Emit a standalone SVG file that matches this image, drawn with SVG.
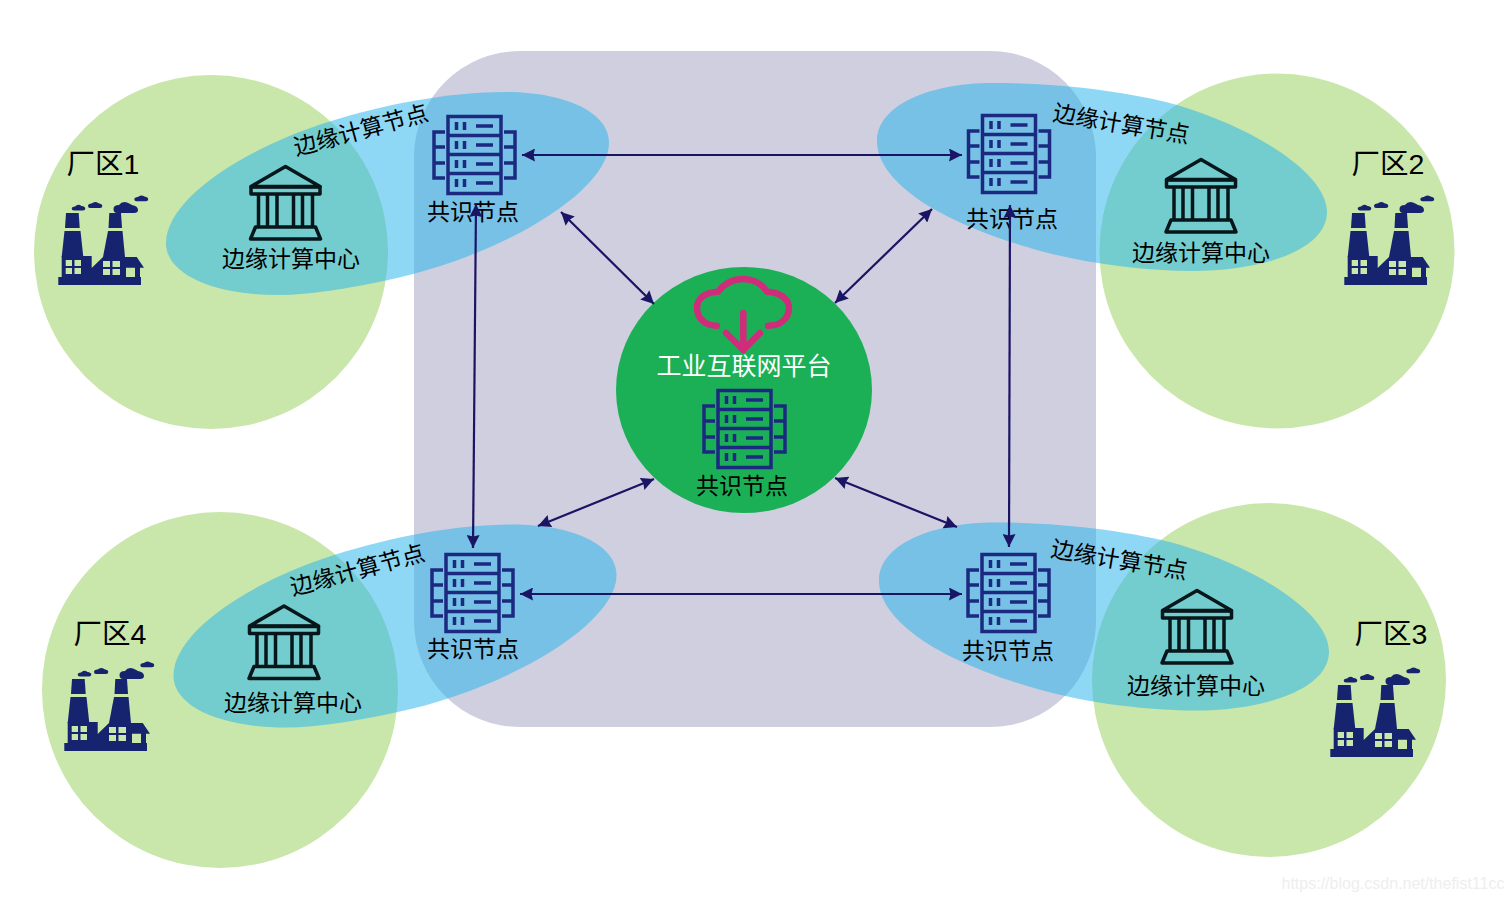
<svg xmlns="http://www.w3.org/2000/svg" width="1512" height="902" viewBox="0 0 1512 902">
<style>
text{font-family:"Liberation Sans","Noto Sans CJK SC",sans-serif;fill:#000;text-anchor:middle}
.t23{font-size:23px}
.t28{font-size:28.5px}
.zone{fill:#c9e6ab}
.edge{fill:#21b2ed;fill-opacity:.51}
.conn{stroke:#1a1464;stroke-width:2.2;fill:none;marker-start:url(#ah);marker-end:url(#ah)}
.srv{fill:none;stroke:#1b2a80;stroke-width:3.5}
.bank{fill:none;stroke:#06161a;stroke-width:3.5;stroke-linejoin:round}
.fac{fill:#16246f;fill-rule:evenodd}
</style>
<defs>
<marker id="ah" markerUnits="userSpaceOnUse" markerWidth="14" markerHeight="13" refX="13" refY="6.5" orient="auto-start-reverse">
<path d="M0 0 L13 6.5 L0 13 L1.5 6.5Z" fill="#1a1464"/>
</marker>
<path id="blobL" d="M166 243C166 200 240 150 328 122C385 104 450 92 505 92C565 92 609 112 609 143C609 190 505 255 388 280C350 288 312 295 278 295C215 295 166 275 166 243Z"/>
<path id="blobR" d="M877 141C877 105 930 83 993 83C1060 83 1130 92 1177 105C1260 130 1327 175 1327 212C1327 250 1262 271 1193 271C1140 271 1075 262 1027 247C975 232 930 210 910 193C890 177 877 160 877 141Z"/>
<g id="server" class="srv">
<rect x="16" y="1.5" width="53" height="77"/>
<path d="M16 20.5H69M16 39.5H69M16 58.5H69"/>
<path d="M13 17H2V63H13M2 32H13M2 48H13"/>
<path d="M72 17H83V63H72M83 32H72M83 48H72"/>
<path d="M24.5 7V15M32.5 7V15M44 11H61M24.5 26V34M32.5 26V34M44 30H61M24.5 45V53M32.5 45V53M44 49H61M24.5 64V72M32.5 64V72M44 68H61"/>
</g>
<g id="bank" class="bank">
<path d="M1.5 21.5L36 1.5L70.5 21.5Z"/>
<rect x="1.5" y="22" width="69" height="7"/>
<path d="M9 29V62M18 29V62M27.5 29V62M44 29V62M53 29V62M63 29V62"/>
<path d="M6 62H66L71 74H1Z"/>
</g>
<g id="factory" class="fac">
<path d="M8 18H20.7L21.7 33H7Z"/>
<path d="M6.5 36H22.5L25.3 62H3.7Z"/>
<path d="M51.3 18H63L64 33H50.5Z"/>
<path d="M50 36H64.5L67 62H45Z"/>
<path d="M3.7 61H33.7V73L45 62H78.7L86 72.7H82V82H83V90H.3V82H3.7Z M7.7 65H14V71H7.7Z M16.5 65H23V71H16.5Z M7.7 73H14V79H7.7Z M16.5 73H23V79H16.5Z M45 66H52V72H45Z M54.5 66H62V72H54.5Z M45 74H52V80H45Z M54.5 74H62V80H54.5Z M68 72.7H77V82H68Z"/>
<path d="M13.7 13.5Q13.7 11.8 17 11.5Q20 8.5 23.5 11Q27.3 11.5 27.3 13.5Q27.3 15.5 25 15.5H16Q13.7 15.5 13.7 13.5Z"/>
<path d="M30 11Q30 9 33.5 8.6Q37 5.5 40.5 8.3Q44.3 9 44.3 11Q44.3 13 42 13H32Q30 13 30 11Z"/>
<path d="M55.5 14Q55.5 10 61 10Q64 6 69 7.5Q72 8.5 74 10Q80 11 80 15Q80 18 76 18H59Q55.5 18 55.5 14Z"/>
<path d="M76.3 4.2Q76.3 2.4 79.8 2Q83 -1 86.5 1.6Q90.2 2.3 90.2 4.2Q90.2 6.2 88 6.2H78.5Q76.3 6.2 76.3 4.2Z"/>
</g>
</defs>
<g id="regions">
<rect x="414" y="51" width="682" height="676" rx="106" ry="106" fill="#d0cfdf"/>
<circle class="zone" cx="211" cy="252" r="177"/>
<circle class="zone" cx="1277" cy="251" r="177.5"/>
<circle class="zone" cx="220" cy="690" r="178"/>
<circle class="zone" cx="1269" cy="680" r="177"/>
<use class="edge" href="#blobL"/>
<use class="edge" href="#blobR"/>
<use class="edge" href="#blobL" x="7.5" y="432.5"/>
<use class="edge" href="#blobR" x="2" y="439.5"/>
</g>
<g id="zone1"><text class="t28" x="103" y="174">厂区1</text><use href="#factory" x="58" y="195"/></g>
<g id="zone2"><text class="t28" x="1388" y="174">厂区2</text><use href="#factory" x="1344" y="195"/></g>
<g id="zone3"><text class="t28" x="1391" y="644">厂区3</text><use href="#factory" x="1330" y="667"/></g>
<g id="zone4"><text class="t28" x="110" y="644">厂区4</text><use href="#factory" x="64" y="661"/></g>
<g id="center1"><use href="#bank" x="249.5" y="165"/><text class="t23" x="291" y="266.5">边缘计算中心</text></g>
<g id="center2"><use href="#bank" x="1165" y="158"/><text class="t23" x="1201" y="260.5">边缘计算中心</text></g>
<g id="center3"><use href="#bank" x="1161" y="589"/><text class="t23" x="1196" y="693.5">边缘计算中心</text></g>
<g id="center4"><use href="#bank" x="248" y="604.5"/><text class="t23" x="293" y="710.5">边缘计算中心</text></g>
<g id="node1"><use href="#server" x="432" y="115"/><text class="t23" x="473" y="219.5">共识节点</text><text class="t23" transform="translate(363 138) rotate(-15)">边缘计算节点</text></g>
<g id="node2"><use href="#server" x="966.5" y="114"/><text class="t23" x="1012" y="226.5">共识节点</text><text class="t23" transform="translate(1120 132) rotate(9.5)">边缘计算节点</text></g>
<g id="node3"><use href="#server" x="966" y="553"/><text class="t23" x="1008" y="658.5">共识节点</text><text class="t23" transform="translate(1118 568) rotate(9.5)">边缘计算节点</text></g>
<g id="node4"><use href="#server" x="430" y="553"/><text class="t23" x="473" y="656.5">共识节点</text><text class="t23" transform="translate(359.5 578) rotate(-15)">边缘计算节点</text></g>
<g id="platform">
<ellipse cx="744" cy="390" rx="128" ry="123" fill="#1bb056"/>
<path d="M716.7 325.7C705 325.7 697 318 697 308C697 298 706 292 718 291.7C724 284 733 279 743 279C753 279 762 284 767 291.7C780 292 789 299 789 308C789 318 781 325.7 768 325.7M743.3 313V350M726 333L743.3 350L760 333" fill="none" stroke="#cf2d7c" stroke-width="6.5" stroke-linecap="round" stroke-linejoin="round"/>
<text x="744" y="375" font-size="25" style="fill:#fff">工业互联网平台</text>
<use href="#server" x="702" y="389"/>
<text class="t23" x="742" y="494">共识节点</text>
</g>
<g id="connectors">
<path class="conn" d="M522 155H962"/>
<path class="conn" d="M520 594H962"/>
<path class="conn" d="M476 204L473 548"/>
<path class="conn" d="M1010 205L1009 547"/>
<path class="conn" d="M561 212L654 304"/>
<path class="conn" d="M932 209L835 303"/>
<path class="conn" d="M654 479L538 526"/>
<path class="conn" d="M835 478L957 527"/>
</g>
<text x="1393" y="889" font-size="16" style="font-family:'Liberation Sans',sans-serif;fill:#eeeeee">https://blog.csdn.net/thefist11cc</text>
</svg>
